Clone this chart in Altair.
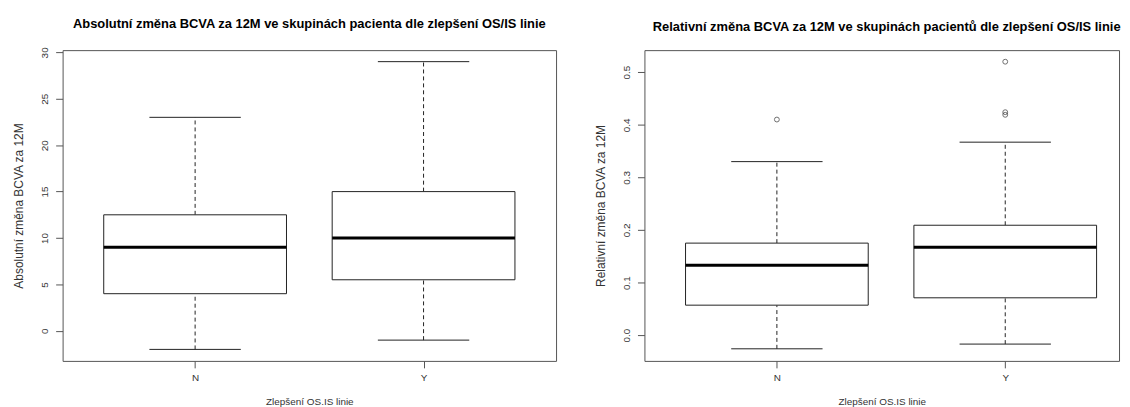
import altair as alt
import pandas as pd

groups = ["N", "Y"]

abs_lower = [-2.0, -1.0]
abs_q1 = [4.0, 5.5]
abs_med = [9.0, 10.0]
abs_q3 = [12.5, 15.0]
abs_upper = [23.0, 29.0]

rel_lower = [-0.026, -0.017]
rel_q1 = [0.057, 0.071]
rel_med = [0.133, 0.167]
rel_q3 = [0.175, 0.209]
rel_upper = [0.330, 0.367]

rel_out_group = ["N", "Y", "Y", "Y"]
rel_out_value = [0.41, 0.52, 0.424, 0.419]

abs_ticks = [0, 5, 10, 15, 20, 25, 30]
rel_ticks = [0.0, 0.1, 0.2, 0.3, 0.4, 0.5]

FONT = "Liberation Sans"
BOXW = 0.4
CAPW = 0.2


def stats_df(lower, q1, med, q3, upper):
    pos = [i + 1 for i in range(len(groups))]
    return pd.DataFrame({
        "group": groups,
        "pos": pos,
        "lo": [p - BOXW for p in pos],
        "hi": [p + BOXW for p in pos],
        "caplo": [p - CAPW for p in pos],
        "caphi": [p + CAPW for p in pos],
        "lower": lower, "q1": q1, "med": med, "q3": q3, "upper": upper,
    })


def panel(df, out_df, ydom, yticks, yfmt, title, ytitle, width, xmax, tdx):
    xs = alt.Scale(domain=[0.42, xmax], nice=False, zero=False)
    ys = alt.Scale(domain=ydom, nice=False, zero=False)
    xax = alt.Axis(values=[1, 2], labelExpr="datum.value == 1 ? 'N' : 'Y'",
                   title="Zlepšení OS.IS linie", grid=False, domain=False,
                   tickSize=7, labelPadding=5, titlePadding=14,
                   labelFontSize=10, titleFontSize=10)
    yax = alt.Axis(values=yticks, format=yfmt, title=ytitle, grid=False, domain=False,
                   tickSize=7, labelAngle=270, labelPadding=6, labelFontSize=10,
                   titleFontSize=12, titlePadding=13, minExtent=24, maxExtent=24)
    base = alt.Chart(df)
    wu = base.mark_rule(color="#222", strokeDash=[4, 3], strokeWidth=1).encode(
        x=alt.X("pos:Q", scale=xs, axis=xax), y=alt.Y("q3:Q", scale=ys, axis=yax), y2="upper")
    wl = base.mark_rule(color="#222", strokeDash=[4, 3], strokeWidth=1).encode(
        x=alt.X("pos:Q", scale=xs, axis=xax), y=alt.Y("lower:Q", scale=ys, axis=yax), y2="q1")
    box = base.mark_rect(fill="white", stroke="#222", strokeWidth=1).encode(
        x=alt.X("lo:Q", scale=xs, axis=xax), x2="hi",
        y=alt.Y("q1:Q", scale=ys, axis=yax), y2="q3")
    cu = base.mark_rule(color="#222", strokeWidth=1).encode(
        x=alt.X("caplo:Q", scale=xs, axis=xax), x2="caphi", y=alt.Y("upper:Q", scale=ys, axis=yax))
    cl = base.mark_rule(color="#222", strokeWidth=1).encode(
        x=alt.X("caplo:Q", scale=xs, axis=xax), x2="caphi", y=alt.Y("lower:Q", scale=ys, axis=yax))
    md = base.mark_rule(color="#000", strokeWidth=3).encode(
        x=alt.X("lo:Q", scale=xs, axis=xax), x2="hi", y=alt.Y("med:Q", scale=ys, axis=yax))
    layers = [wu, wl, box, cu, cl, md]
    if out_df is not None:
        pts = alt.Chart(out_df).mark_point(shape="circle", filled=False, size=24,
                                           color="#333", strokeWidth=1).encode(
            x=alt.X("pos:Q", scale=xs, axis=xax), y=alt.Y("value:Q", scale=ys, axis=yax))
        layers.append(pts)
    return alt.layer(*layers).properties(
        width=width, height=313,
        title=alt.TitleParams(title, fontSize=13, fontWeight="bold", font=FONT,
                              color="#000", offset=16, anchor="middle", dx=tdx))


abs_df = stats_df(abs_lower, abs_q1, abs_med, abs_q3, abs_upper)
rel_df = stats_df(rel_lower, rel_q1, rel_med, rel_q3, rel_upper)
out_df = pd.DataFrame({"group": rel_out_group, "value": rel_out_value})
out_df["pos"] = [groups.index(g) + 1 for g in rel_out_group]

left = panel(abs_df, None, [-3.24, 30.24], abs_ticks, "d",
             "Absolutní změna BCVA za 12M ve skupinách pacienta dle zlepšení OS/IS linie",
             "Absolutní změna BCVA za 12M", 497, 2.58, 0)
right = panel(rel_df, out_df, [-0.049, 0.542], rel_ticks, ".1f",
              "Relativní změna BCVA za 12M ve skupinách pacientů dle zlepšení OS/IS linie",
              "Relativní změna BCVA za 12M", 478, 0.42 + 478 / 230, 5)

chart = alt.hconcat(left, right, spacing=37).properties(
    padding={"left": 4, "top": 8, "right": 0, "bottom": 0},
    background="white",
).configure_view(stroke="#555", strokeWidth=1).configure_axis(
    labelFont=FONT, titleFont=FONT, labelColor="#333", titleColor="#333",
    tickColor="#555", titleFontWeight="normal",
)

chart.save("out.html", embed_options={"renderer": "svg", "actions": False})
